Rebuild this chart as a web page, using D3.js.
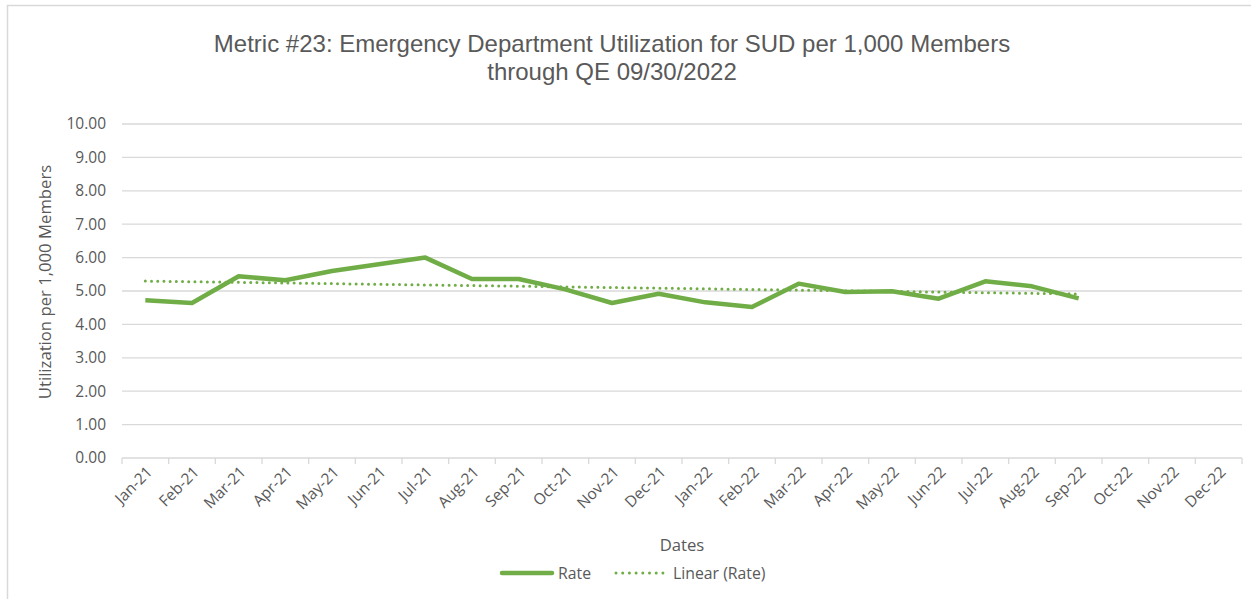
<!DOCTYPE html>
<html>
<head>
<meta charset="utf-8">
<script src="https://cdn.jsdelivr.net/npm/d3@7/dist/d3.min.js"></script>
<style>
  html, body { margin: 0; padding: 0; background: #fff; }
  svg { display: block; }
</style>
</head>
<body>
<svg id="chart" width="1251" height="599"></svg>
<script>
// Month categories on the x axis
const months = [
  "Jan-21","Feb-21","Mar-21","Apr-21","May-21","Jun-21","Jul-21","Aug-21","Sep-21","Oct-21","Nov-21","Dec-21",
  "Jan-22","Feb-22","Mar-22","Apr-22","May-22","Jun-22","Jul-22","Aug-22","Sep-22","Oct-22","Nov-22","Dec-22"
];
// ED utilization for SUD per 1,000 members (reported through Sep-22)
const rate = [
  4.72, 4.64, 5.44, 5.32, 5.60, 5.80, 6.00, 5.36, 5.36, 5.05, 4.64, 4.92,
  4.66, 4.52, 5.22, 4.97, 4.99, 4.77, 5.29, 5.14, 4.78
];
const yTicks = [0,1,2,3,4,5,6,7,8,9,10];

const titleLines = [
  "Metric #23: Emergency Department Utilization for SUD per 1,000 Members",
  "through QE 09/30/2022"
];

const green = "#70AD47";
const textColor = "#595959";
const gridColor = "#d9d9d9";

const svg = d3.select("#chart");

// chart frame
svg.append("rect")
  .attr("x", 7.5).attr("y", 5.5)
  .attr("width", 1260).attr("height", 620)
  .attr("fill", "none").attr("stroke", gridColor).attr("stroke-width", 1.5);

const plot = { left: 122, right: 1242, top: 124, bottom: 458 };

const x = d3.scaleBand().domain(months).range([plot.left, plot.right]);
const y = d3.scaleLinear().domain([0, 10]).range([plot.bottom, plot.top]);
const cx = m => x(m) + x.bandwidth() / 2;

// title
svg.append("text")
  .attr("x", 612).attr("y", 52)
  .attr("text-anchor", "middle")
  .attr("font-family", "'Liberation Sans', Arial, sans-serif")
  .attr("font-size", 24)
  .attr("fill", textColor)
  .selectAll("tspan").data(titleLines).join("tspan")
  .attr("x", 612).attr("dy", (d, i) => i === 0 ? 0 : 28)
  .text(d => d);

// horizontal gridlines
svg.append("g")
  .selectAll("line").data(yTicks.filter(t => t > 0)).join("line")
  .attr("x1", plot.left).attr("x2", plot.right)
  .attr("y1", d => y(d)).attr("y2", d => y(d))
  .attr("stroke", gridColor).attr("stroke-width", 1.3);

// y axis labels
const yAxis = d3.axisLeft(y).tickValues(yTicks).tickFormat(d3.format(".2f")).tickSize(0).tickPadding(16);
const gy = svg.append("g").attr("transform", `translate(${plot.left},0)`).call(yAxis);
gy.select(".domain").remove();
gy.selectAll("text")
  .attr("font-family", "'Open Sans', sans-serif")
  .attr("font-size", 15.5)
  .attr("fill", textColor);

// x axis with tick marks between categories
const xAxisLine = svg.append("g");
xAxisLine.append("line")
  .attr("x1", plot.left).attr("x2", plot.right)
  .attr("y1", plot.bottom).attr("y2", plot.bottom)
  .attr("stroke", gridColor).attr("stroke-width", 1.3);
xAxisLine.selectAll("line.tick")
  .data(months.map(m => x(m)).concat([plot.right]))
  .join("line").attr("class", "tick")
  .attr("x1", d => d).attr("x2", d => d)
  .attr("y1", plot.bottom).attr("y2", plot.bottom + 6)
  .attr("stroke", gridColor).attr("stroke-width", 1.3);

const xAxis = d3.axisBottom(x).tickSize(0).tickPadding(0);
const gx = svg.append("g").attr("transform", `translate(0,${plot.bottom})`).call(xAxis);
gx.select(".domain").remove();
gx.selectAll(".tick text")
  .attr("font-family", "'Open Sans', sans-serif")
  .attr("font-size", 15.5)
  .attr("fill", textColor)
  .attr("text-anchor", "end")
  .attr("dy", 0)
  .attr("transform", "translate(8,15) rotate(-45)");

// axis titles
svg.append("text")
  .attr("x", (plot.left + plot.right) / 2).attr("y", 551)
  .attr("text-anchor", "middle")
  .attr("font-family", "'Open Sans', sans-serif")
  .attr("font-size", 16.7)
  .attr("fill", textColor)
  .text("Dates");

svg.append("text")
  .attr("transform", `translate(51,${282}) rotate(-90)`)
  .attr("text-anchor", "middle")
  .attr("font-family", "'Open Sans', sans-serif")
  .attr("font-size", 16.7)
  .attr("fill", textColor)
  .text("Utilization per 1,000 Members");

// least-squares linear trend over the reported months
const n = rate.length;
const xs = d3.range(n);
const mx = d3.mean(xs), my = d3.mean(rate);
const slope = d3.sum(xs, i => (i - mx) * (rate[i] - my)) / d3.sum(xs, i => (i - mx) ** 2);
const intercept = my - slope * mx;
const trend = [0, n - 1].map(i => ({ m: months[i], v: intercept + slope * i }));

const line = d3.line().x(d => cx(d.m)).y(d => y(d.v));

svg.append("path")
  .datum(trend)
  .attr("d", line)
  .attr("fill", "none")
  .attr("stroke", green)
  .attr("stroke-width", 3)
  .attr("stroke-linecap", "round")
  .attr("stroke-dasharray", "0 6.2");

svg.append("path")
  .datum(rate.map((v, i) => ({ m: months[i], v })))
  .attr("d", line)
  .attr("fill", "none")
  .attr("stroke", green)
  .attr("stroke-width", 4.5)
  .attr("stroke-linejoin", "round");

// legend
const legend = svg.append("g").attr("font-family", "'Open Sans', sans-serif").attr("font-size", 15.8).attr("fill", textColor);
legend.append("line")
  .attr("x1", 502).attr("x2", 552).attr("y1", 573).attr("y2", 573)
  .attr("stroke", green).attr("stroke-width", 4.5).attr("stroke-linecap", "round");
legend.append("text").attr("x", 558).attr("y", 578.5).text("Rate");
legend.append("line")
  .attr("x1", 616).attr("x2", 663).attr("y1", 573).attr("y2", 573)
  .attr("stroke", green).attr("stroke-width", 3).attr("stroke-linecap", "round")
  .attr("stroke-dasharray", "0 6.7");
legend.append("text").attr("x", 673).attr("y", 578.5).text("Linear (Rate)");
</script>
</body>
</html>
